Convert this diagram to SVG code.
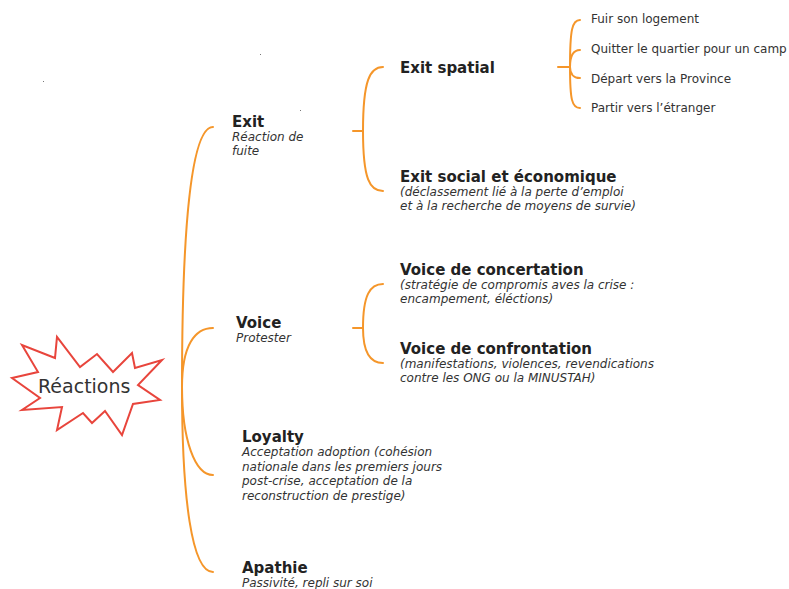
<svg xmlns="http://www.w3.org/2000/svg" width="789" height="589" viewBox="0 0 789 589">
<style>
text{font-family:"DejaVu Sans",Verdana,sans-serif;}
.b{font-weight:bold;font-size:15px;fill:#222;}
.i{font-style:italic;font-size:12px;fill:#333;}
.r{font-size:12px;fill:#333;}
.c path{fill:none;stroke:#f5962a;stroke-width:2;stroke-linecap:round;}
</style>
<rect width="789" height="589" fill="#fff"/>
<g class="c" id="connectors">
<path d="M182,387 C182,220 192,127 213,127"/>
<path d="M182,387 C182,345 195,328 213,328"/>
<path d="M182,387 C182,440 195,475 213,475"/>
<path d="M182,387 C182,500 192,572 213,572"/>
<path d="M353,131 H363 M363,131 C363,80 370,67 383,67 M363,131 C363,180 370,191 383,191"/>
<path d="M353,328 H363 M363,328 C363,295 370,284 383,284 M363,328 C363,352 370,363 383,363"/>
<path d="M558,67 H570 M570,67 C570,30 572,20 580,20 M570,67 C570,56 573,50 580,50 M570,67 C570,73 573,78 580,78 M570,67 C570,100 572,108 580,108"/>
</g>
<g id="root">
<polygon points="12,378 38,372 22,345 55,358 57,337 80,367 97,354 113,372 132,353 135,368 162,360 138,385 160,400 133,404 122,435 105,411 92,423 83,413 57,430 62,407 22,410 40,398" fill="#fff" stroke="#e8453c" stroke-width="2" stroke-linejoin="miter"/>
<text x="38" y="393" style="font-size:19px;fill:#333">Réactions</text>
</g>
<g id="exit"><text class="b" x="232" y="127">Exit</text><text class="i" x="232" y="141">Réaction de</text><text class="i" x="232" y="155">fuite</text></g>
<g id="voice"><text class="b" x="236" y="328">Voice</text><text class="i" x="236" y="342">Protester</text></g>
<g id="loyalty"><text class="b" x="242" y="442">Loyalty</text><text class="i" x="242" y="456">Acceptation adoption (cohésion</text><text class="i" x="242" y="471">nationale dans les premiers jours</text><text class="i" x="242" y="485">post-crise, acceptation de la</text><text class="i" x="242" y="500">reconstruction de prestige)</text></g>
<g id="apathie"><text class="b" x="242" y="573">Apathie</text><text class="i" x="242" y="587">Passivité, repli sur soi</text></g>
<g id="exit-spatial"><text class="b" x="400" y="73">Exit spatial</text></g>
<g id="exit-social"><text class="b" x="400" y="182">Exit social et économique</text><text class="i" x="400" y="196">(déclassement lié à la perte d’emploi</text><text class="i" x="400" y="210">et à la recherche de moyens de survie)</text></g>
<g id="voice-concertation"><text class="b" x="400" y="275">Voice de concertation</text><text class="i" x="400" y="289">(stratégie de compromis aves la crise :</text><text class="i" x="400" y="303">encampement, éléctions)</text></g>
<g id="voice-confrontation"><text class="b" x="400" y="354">Voice de confrontation</text><text class="i" x="400" y="368">(manifestations, violences, revendications</text><text class="i" x="400" y="382">contre les ONG ou la MINUSTAH)</text></g>
<g id="fuir"><text class="r" x="591" y="23">Fuir son logement</text></g>
<g id="quitter"><text class="r" x="591" y="53">Quitter le quartier pour un camp</text></g>
<g id="depart"><text class="r" x="591" y="83">Départ vers la Province</text></g>
<g id="partir"><text class="r" x="591" y="112">Partir vers l’étranger</text></g>
<g id="specks" fill="#777"><rect x="43" y="81" width="1" height="1"/><rect x="260" y="54" width="1" height="1"/><rect x="300" y="110" width="1" height="1"/></g>
</svg>
